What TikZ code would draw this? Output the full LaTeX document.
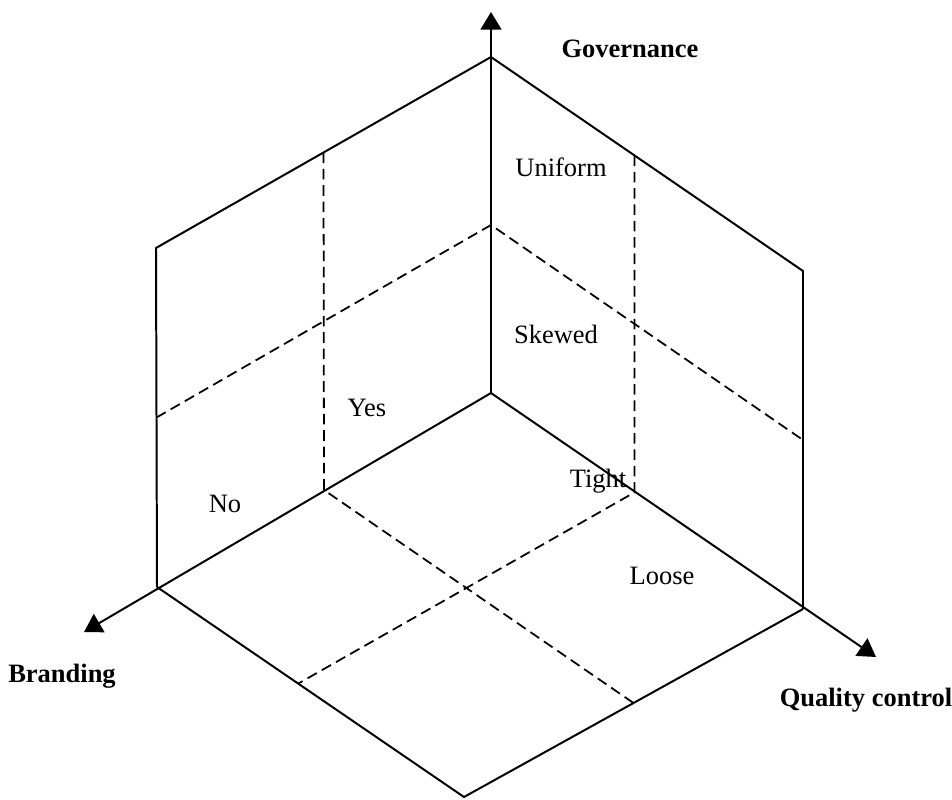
\documentclass[tikz,border=0pt]{standalone}
\usepackage{fontspec}
\setmainfont{Liberation Serif}
\usepackage{tikz}
\usetikzlibrary{calc, positioning, arrows.meta}

\begin{document}
\begin{tikzpicture}[x=0.453pt, y=-0.453pt,
	axis/.style={line width=0.9pt, -{Triangle[length=8pt, width=9.5pt]}},
	edge/.style={line width=0.9pt},
	grid/.style={line width=0.8pt, dash pattern=on 4.8pt off 2.6pt},
	lab/.style={font=\fontsize{12}{14}\selectfont, anchor=base},
	axlab/.style={font=\fontsize{12}{14}\selectfont\bfseries, anchor=base}]
		
		\useasboundingbox (0,0) rectangle (952,799);
		
		%//corners of the cube
		\coordinate (O) at (491,393);
		\coordinate (T) at (491,57);
		\coordinate (LT) at (156,248);
		\coordinate (LB) at (157,587);
		\coordinate (RT) at (803,271);
		\coordinate (RB) at (803,609);
		\coordinate (B) at (464,797);
		
		\coordinate (gtip) at (491,12);
		\coordinate (btip) at (84,632);
		\coordinate (qtip) at (876,657);
		
		%//axes
		\foreach \tip in {gtip, btip, qtip}
		\draw [axis] (O) -- (\tip);
		
		%//outer edges
		\draw [edge] (LB) -- (LT) -- (T) -- (RT) -- (RB);
		\draw [edge] (LB) -- (B) -- (RB);
		
		%//dashed splits
		\draw [grid] ($(T)!0.5!(LT)$) -- ($(O)!0.5!(LB)$) -- ($(RB)!0.5!(B)$);
		\draw [grid] ($(LB)!0.5!(LT)$) -- ($(O)!0.5!(T)$) -- ($(RB)!0.5!(RT)$);
		\draw [grid] ($(T)!0.46!(RT)$) -- ($(O)!0.46!(RB)$) -- ($(LB)!0.46!(B)$);
		
		\node [axlab] (gov) at (630,57) {Governance};
		\node [axlab] (brand) at (62,682) {Branding};
		\node [axlab] (qual) at (866,706) {Quality control};
		
		\node [lab] (uniform) at (561,176) {Uniform};
		\node [lab] (skewed) at (556,343) {Skewed};
		\node [lab] (yes) at (367,416) {Yes};
		\node [lab] (no) at (225,512) {No};
		\node [lab] (tight) at (598,487) {Tight};
		\node [lab] (loose) at (662,584) {Loose};
		\end{tikzpicture}
\end{document}
